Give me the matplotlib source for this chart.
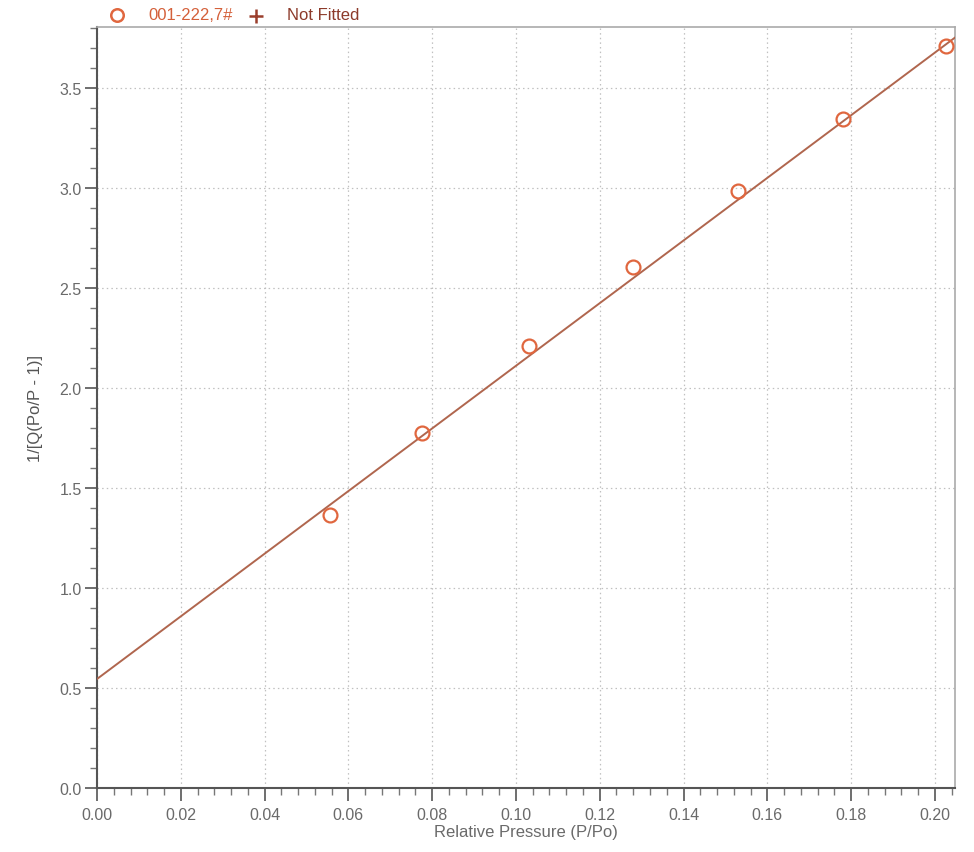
import matplotlib
matplotlib.use("Agg")
import matplotlib.pyplot as plt
from matplotlib.lines import Line2D
import numpy as np
from matplotlib.ticker import MultipleLocator, FormatStrFormatter

plt.rcParams['font.family'] = ['Liberation Sans', 'DejaVu Sans']

# data
rel_pressure = [0.0556, 0.0776, 0.1031, 0.1279, 0.1530, 0.1780, 0.2026]
bet_values = [1.365, 1.775, 2.21, 2.605, 2.985, 3.345, 3.71]
fit_slope = 15.66
fit_intercept = 0.545
series_label = "001-222,7#"
not_fitted_label = "Not Fitted"

fig = plt.figure(figsize=(9.74, 8.53), dpi=100)
ax = fig.add_axes([97/974, 1-789/853, (955-97)/974, (789-28)/853])

xmin, xmax = 0.0, 0.2048
ymin, ymax = 0.0, 3.805
xs = np.array([xmin, xmax])
ax.plot(xs, fit_intercept + fit_slope*xs, color='#b0664e', lw=1.4, zorder=3)
ax.plot(rel_pressure, bet_values, 'o', ms=10, mfc='none', mec='#e0673f', mew=1.6, zorder=4)

ax.set_xlim(xmin, xmax)
ax.set_ylim(ymin, ymax)
ax.xaxis.set_major_locator(MultipleLocator(0.02))
ax.xaxis.set_minor_locator(MultipleLocator(0.004))
ax.yaxis.set_major_locator(MultipleLocator(0.5))
ax.yaxis.set_minor_locator(MultipleLocator(0.1))
ax.xaxis.set_major_formatter(FormatStrFormatter('%.2f'))
ax.yaxis.set_major_formatter(FormatStrFormatter('%.1f'))
ax.tick_params(axis='both', which='major', length=9, width=1.2, color='#555555',
               labelsize=11.5, labelcolor='#6a6a6a', direction='out', pad=2)
ax.tick_params(axis='x', which='major', pad=5)
ax.tick_params(axis='both', which='minor', length=5, width=1.0, color='#777777', direction='out')
ax.grid(True, which='major', linestyle=(0, (1.2, 2.5)), color='#c0c0c0', lw=0.9)
for s in ['left', 'bottom']:
    ax.spines[s].set_color('#555555')
    ax.spines[s].set_linewidth(1.5)
for s in ['top', 'right']:
    ax.spines[s].set_color('#aaaaaa')
    ax.spines[s].set_linewidth(1.2)

ax.set_xlabel('Relative Pressure (P/Po)', fontsize=12, color='#6a6a6a', labelpad=1)
ax.set_ylabel('1/[Q(Po/P - 1)]', fontsize=12, color='#555555')
ax.yaxis.set_label_coords(-(97-43)/858, 0.5)

# legend on top
fig.lines.append(Line2D([117/974], [1-16/853], marker='o', ms=9, mfc='none',
                        mec='#e0673f', mew=1.8, transform=fig.transFigure))
fig.text(148/974, 1-16/853, series_label, fontsize=12, color='#d4603a', ha='left', va='center')
fig.lines.append(Line2D([256/974], [1-17/853], marker='+', ms=10, mfc='none',
                        mec='#9a3e2c', mew=1.8, transform=fig.transFigure))
fig.text(287/974, 1-16/853, not_fitted_label, fontsize=12, color='#8c3a2a', ha='left', va='center')

fig.savefig('out.png', dpi=100)
